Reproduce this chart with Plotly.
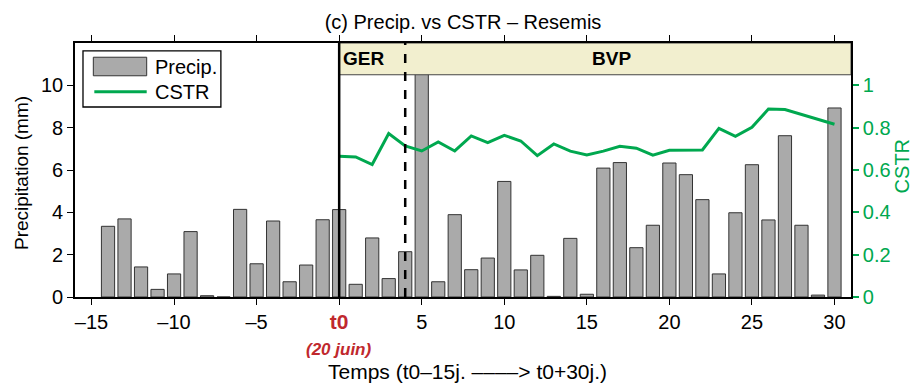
import plotly.graph_objects as go

days = list(range(-14, 31))
precip = [3.34, 3.69, 1.42, 0.36, 1.09, 3.09, 0.06, 0.0, 4.14, 1.57, 3.59, 0.72, 1.51, 3.65,
          4.13, 0.60, 2.79, 0.87, 2.14, 11.0, 0.72, 3.89, 1.29, 1.84, 5.46, 1.28, 1.97, 0.03,
          2.77, 0.13, 6.09, 6.35, 2.33, 3.39, 6.33, 5.78, 4.60, 1.09, 3.98, 6.25, 3.64, 7.62,
          3.39, 0.09, 8.93]
cstr_days = list(range(0, 31))
cstr = [0.665, 0.662, 0.626, 0.772, 0.714, 0.690, 0.733, 0.690, 0.761, 0.729, 0.764, 0.737,
        0.668, 0.723, 0.689, 0.671, 0.689, 0.712, 0.703, 0.670, 0.693, 0.693, 0.695, 0.797,
        0.759, 0.802, 0.888, 0.886, 0.863, 0.839, 0.816]
xtick_vals = [-15, -10, -5, 0, 5, 10, 15, 20, 25, 30]
xtick_text = ["\u201315", "\u201310", "\u20135",
              "<b><span style='color:#c0282d;font-size:21px'>t0</span></b>",
              "5", "10", "15", "20", "25", "30"]
ytick_vals = [0, 2, 4, 6, 8, 10]
y2tick_vals = [0, 0.2, 0.4, 0.6, 0.8, 1]
y2tick_text = ["0", "0.2", "0.4", "0.6", "0.8", "1"]

GREEN = "#00a84f"
RED = "#c0282d"
FONT = "Liberation Sans"

fig = go.Figure()
fig.add_trace(go.Bar(x=days, y=precip, name="Precip.", width=0.8, showlegend=False,
                     marker=dict(color="#aaaaaa", line=dict(color="#333333", width=1))))
fig.add_trace(go.Scatter(x=cstr_days, y=cstr, name="CSTR", mode="lines", yaxis="y2",
                         showlegend=False, line=dict(color=GREEN, width=3)))

shapes = [
    dict(type="rect", xref="x", yref="y", x0=0, x1=31, y0=10.5, y1=12,
         fillcolor="#f2efcf", line=dict(color="#444444", width=1), layer="above"),
    dict(type="line", xref="x", yref="y", x0=0, x1=0, y0=0, y1=12,
         line=dict(color="black", width=2.5), layer="above"),
    dict(type="line", xref="x", yref="y", x0=4, x1=4, y0=0, y1=12,
         line=dict(color="black", width=2.5, dash="dash"), layer="above"),
    # manual legend
    dict(type="rect", xref="paper", yref="paper", x0=0.0103, x1=0.188, y0=0.748, y1=0.969,
         fillcolor="white", line=dict(color="black", width=1.3), layer="above"),
    dict(type="rect", xref="paper", yref="paper", x0=0.0236, x1=0.0924, y0=0.871, y1=0.944,
         fillcolor="#aaaaaa", line=dict(color="#333333", width=1), layer="above"),
    dict(type="line", xref="paper", yref="paper", x0=0.0249, x1=0.0924, y0=0.808, y1=0.808,
         line=dict(color=GREEN, width=3), layer="above"),
]

annotations = [
    dict(x=0.1, y=11.25, xref="x", yref="y", text="<b>GER</b>", showarrow=False,
         xanchor="left", yanchor="middle", font=dict(size=19, color="black", family=FONT)),
    dict(x=16.5, y=11.25, xref="x", yref="y", text="<b>BVP</b>", showarrow=False,
         xanchor="center", yanchor="middle", font=dict(size=19, color="black", family=FONT)),
    dict(x=0, y=-0.205, xref="x", yref="paper", text="<b><i>(20 juin)</i></b>", showarrow=False,
         xanchor="center", yanchor="middle", font=dict(size=17, color=RED, family=FONT)),
    dict(x=0.506, y=-0.295, xref="paper", yref="paper",
         text="Temps (t0\u201315j. \u2013\u2013\u2013\u2013> t0+30j.)", showarrow=False,
         xanchor="center", yanchor="middle", font=dict(size=21, color="black", family=FONT)),
    dict(x=-0.0696, y=0.488, xref="paper", yref="paper", text="Precipitation (mm)",
         textangle=-90, showarrow=False, xanchor="center", yanchor="middle",
         font=dict(size=19, color="black", family=FONT)),
    dict(x=1.066, y=0.515, xref="paper", yref="paper", text="CSTR",
         textangle=-90, showarrow=False, xanchor="center", yanchor="middle",
         font=dict(size=20, color=GREEN, family=FONT)),
    dict(x=0.100, y=0.907, xref="paper", yref="paper", text="Precip.", showarrow=False,
         xanchor="left", yanchor="middle", font=dict(size=20, color="black", family=FONT)),
    dict(x=0.100, y=0.808, xref="paper", yref="paper", text="CSTR", showarrow=False,
         xanchor="left", yanchor="middle", font=dict(size=20, color="black", family=FONT)),
]

fig.update_layout(
    width=910, height=381,
    margin=dict(l=67, r=67, t=35, b=92),
    paper_bgcolor="white", plot_bgcolor="white",
    font=dict(family=FONT, size=20, color="black"),
    title=dict(text="(c) Precip. vs CSTR \u2013 Resemis", x=0.5, xref="paper", xanchor="center",
               y=1 - 14 / 381, yanchor="middle", font=dict(size=20, color="black")),
    xaxis=dict(range=[-16, 31], tickvals=xtick_vals, ticktext=xtick_text,
               ticks="outside", ticklen=6, tickwidth=1.3, tickcolor="black", showline=True,
               linecolor="black", linewidth=1.6, mirror="ticks", showgrid=False,
               zeroline=False, tickfont=dict(size=20)),
    yaxis=dict(range=[0, 12], tickvals=ytick_vals, ticks="outside", ticklen=6, tickwidth=1.3,
               tickcolor="black", showline=True, linecolor="black", linewidth=1.6,
               showgrid=False, zeroline=False, tickfont=dict(size=20)),
    yaxis2=dict(range=[0, 1.2], overlaying="y", side="right", tickvals=y2tick_vals,
                ticktext=y2tick_text, ticks="outside", ticklen=6, tickwidth=2,
                tickcolor=GREEN, tickfont=dict(color=GREEN, size=20),
                showline=True, linecolor="black", linewidth=1.6, showgrid=False,
                zeroline=False),
    bargap=0.2,
    shapes=shapes, annotations=annotations, showlegend=False,
)

fig.write_html("out.html")
